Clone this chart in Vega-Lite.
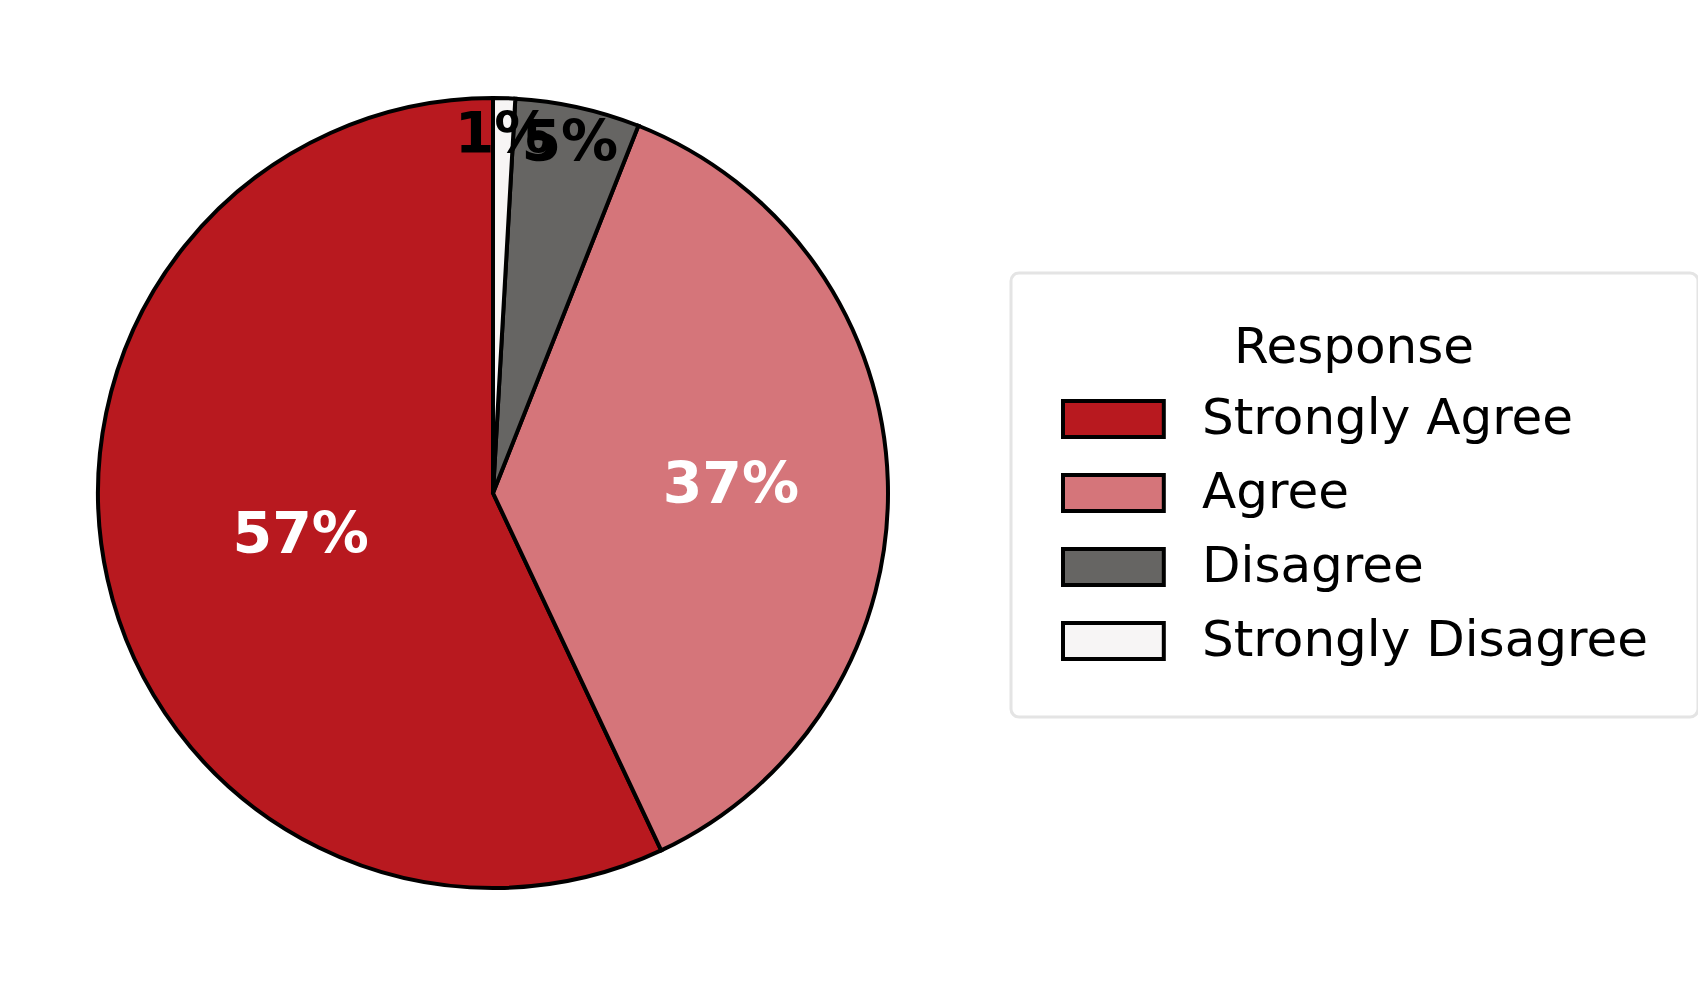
{
  "$schema": "https://vega.github.io/schema/vega-lite/v6.json",
  "width": 986,
  "height": 986,
  "padding": 0,
  "background": "white",
  "config": {
    "view": {"stroke": null},
    "font": "DejaVu Sans",
    "legend": {
      "orient": "none",
      "legendX": 1011,
      "legendY": 273,
      "padding": 50,
      "strokeColor": "#e4e4e4",
      "strokeWidth": 3,
      "fillColor": "white",
      "cornerRadius": 8,
      "titleFont": "DejaVu Sans",
      "titleFontSize": 50,
      "titleFontWeight": "normal",
      "titleColor": "black",
      "titleAnchor": "middle",
      "titlePadding": 8,
      "titleLimit": 2000,
      "labelFont": "DejaVu Sans",
      "labelFontSize": 50,
      "labelColor": "black",
      "labelOffset": 65,
      "labelLimit": 2000,
      "rowPadding": 10,
      "symbolType": "M-1,-0.5L1.8,-0.5L1.8,0.5L-1,0.5Z",
      "symbolSize": 5184,
      "symbolStrokeColor": "black",
      "symbolStrokeWidth": 4,
      "symbolOpacity": 1
    }
  },
  "data": {
    "values": [
      {"response": "Strongly Agree", "value": 57.0, "label": "57%", "rank": 4},
      {"response": "Agree", "value": 37.0, "label": "37%", "rank": 3},
      {"response": "Disagree", "value": 5.1, "label": "5%", "rank": 2},
      {"response": "Strongly Disagree", "value": 0.9, "label": "1%", "rank": 1}
    ]
  },
  "encoding": {
    "theta": {"field": "value", "type": "quantitative", "stack": true},
    "order": {"field": "rank", "type": "quantitative", "sort": "ascending"}
  },
  "layer": [
    {
      "mark": {"type": "arc", "radius": 395, "stroke": "black", "strokeWidth": 4, "opacity": 1},
      "encoding": {
        "color": {
          "field": "response",
          "type": "nominal",
          "scale": {
            "domain": ["Strongly Agree", "Agree", "Disagree", "Strongly Disagree"],
            "range": ["#b8191f", "#d5757a", "#666563", "#f7f5f5"]
          },
          "legend": {"title": "Response"}
        }
      }
    },
    {
      "mark": {"type": "text", "radius": 197, "font": "DejaVu Sans", "fontSize": 57, "fontWeight": "bold", "fill": "white", "align": "center", "baseline": "middle"},
      "encoding": {
        "text": {"condition": {"test": "datum.label === '57%'", "field": "label"}, "value": ""}
      }
    },
    {
      "mark": {"type": "text", "radius": 238, "font": "DejaVu Sans", "fontSize": 57, "fontWeight": "bold", "fill": "white", "align": "center", "baseline": "middle"},
      "encoding": {
        "text": {"condition": {"test": "datum.label === '37%'", "field": "label"}, "value": ""}
      }
    },
    {
      "mark": {"type": "text", "radius": 357, "font": "DejaVu Sans", "fontSize": 57, "fontWeight": "bold", "fill": "black", "align": "center", "baseline": "middle"},
      "encoding": {
        "text": {"condition": {"test": "datum.label === '1%' || datum.label === '5%'", "field": "label"}, "value": ""}
      }
    }
  ]
}
